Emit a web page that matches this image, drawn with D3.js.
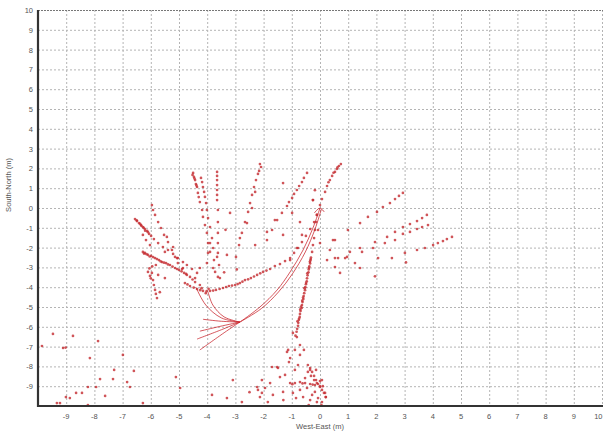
<!DOCTYPE html>
<html>
<head>
<meta charset="utf-8">
<script src="https://cdn.jsdelivr.net/npm/d3@7"></script>
<style>
  html, body { margin: 0; padding: 0; background: #fff; }
  svg { display: block; font-family: "Liberation Sans", Arial, sans-serif; }
</style>
</head>
<body>
<svg id="chart" width="603" height="434"></svg>
<script>
// Tick values for both axes (metres)
const xTicks = [-9,-8,-7,-6,-5,-4,-3,-2,-1,0,1,2,3,4,5,6,7,8,9,10];
const yTicks = [-9,-8,-7,-6,-5,-4,-3,-2,-1,0,1,2,3,4,5,6,7,8,9,10];

// Recorded positions [West-East, South-North] in metres, grouped by area
const westFan = [
  [-5.96,0.15],[-5.92,-0.10],[-5.85,-0.35],[-5.74,-0.71],[-5.64,-1.01],[-5.53,-1.36],[-5.39,-1.72],[-5.25,-2.12],[-5.14,-2.47],[-5.04,-2.78],[-4.89,-3.08],[-4.75,-3.33],
  [-6.56,-0.56],[-6.49,-0.66],[-6.42,-0.76],[-6.35,-0.86],[-6.28,-0.96],[-6.21,-1.06],[-6.13,-1.16],[-6.06,-1.31],[-5.99,-1.41],[-5.89,-1.57],[-5.74,-1.77],[-5.57,-1.97],[-5.39,-2.12],[-5.21,-2.32],[-5.04,-2.53],[-4.86,-2.73],[-4.72,-2.88],[-4.54,-3.08],[-4.36,-3.28],
  [-6.50,-0.62],[-6.38,-0.80],[-6.25,-1.00],[-6.10,-1.22],[-6.28,-1.36],[-6.17,-1.62],[-6.03,-1.87],[-6.20,-1.15],[-6.33,-0.90],
  [-6.28,-2.22],[-6.21,-2.27],[-6.10,-2.37],[-5.99,-2.42],[-5.85,-2.53],[-5.71,-2.63],[-5.60,-2.73],[-5.46,-2.78],[-5.32,-2.88],[-5.14,-3.03],[-5.00,-3.13],[-4.82,-3.28],[-4.61,-3.48],[-4.43,-3.74],[-4.26,-3.89],
  [-6.24,-2.30],[-6.15,-2.33],[-6.04,-2.45],[-5.92,-2.48],[-5.78,-2.58],[-5.65,-2.70],[-5.53,-2.76],[-5.39,-2.85],[-5.23,-2.96],[-5.07,-3.08],[-4.91,-3.20],[-4.72,-3.38],[-4.52,-3.61],
  [-6.10,-3.23],[-5.96,-3.28],[-5.74,-3.38],[-5.50,-3.54],[-6.03,-3.43],[-5.92,-3.64],[-5.89,-3.89],[-5.85,-4.14],[-5.82,-4.34],[-5.78,-4.55],
  [-6.05,-3.05],[-5.95,-2.95],[-5.82,-2.88],[-6.00,-3.55],[-5.68,-4.25]
];

const northRays = [
  [-4.50,1.77],[-4.47,1.57],[-4.43,1.41],[-4.40,1.21],[-4.36,1.06],[-4.33,0.76],[-4.26,0.30],[-4.18,-0.10],[-4.15,-0.45],[-4.08,-0.86],[-4.01,-1.26],[-3.97,-1.77],[-3.90,-2.22],
  [-4.52,1.67],[-4.45,1.49],[-4.38,1.14],[-4.30,0.55],
  [-4.22,1.52],[-4.18,1.31],[-4.15,1.06],[-4.11,0.81],[-4.08,0.56],[-4.04,0.25],[-4.01,-0.10],[-3.97,-0.51],[-3.90,-0.96],[-3.83,-1.52],[-3.79,-2.02],[-3.76,-2.63],[-3.72,-3.23],
  [-3.65,1.82],[-3.65,1.62],[-3.65,1.41],[-3.65,1.16],[-3.65,0.91],[-3.65,0.66],[-3.65,0.40],[-3.62,-0.10],[-3.62,-0.71],[-3.62,-1.26],[-3.62,-1.77],[-3.62,-2.27],[-3.58,-2.88],[-3.55,-3.54],
  [-2.13,2.22],[-2.09,2.07],[-2.16,1.87],[-2.20,1.72],[-2.27,1.41],[-2.34,1.06],[-2.41,0.66],[-2.48,0.25],[-2.55,-0.20],[-2.66,-0.71],[-2.77,-1.26],[-2.87,-1.87],[-2.98,-2.47],
  [-0.46,1.77],[-0.57,1.52],[-0.64,1.31],[-0.74,1.11],[-0.82,0.91],[-0.92,0.71],[-0.99,0.51],[-1.10,0.30],[-1.17,0.10],[-1.35,-0.25],[-1.52,-0.61],[-1.70,-1.11],[-1.88,-1.62],
  [0.74,2.22],[0.67,2.12],[0.60,1.97],[0.53,1.82],[0.43,1.62],[0.35,1.41],[0.25,1.11],[0.18,0.81],[0.07,0.45],[0.00,0.15],
  [0.62,2.05],[0.48,1.78],[0.30,1.30],[-0.18,0.90],[-0.25,0.40]
];

const eastRays = [
  [0.53,-1.62],[0.99,-1.11],[1.42,-0.76],[1.70,-0.45],[2.02,-0.20],[2.23,0.05],[2.48,0.25],[2.66,0.45],[2.80,0.61],[2.94,0.76],
  [0.53,-2.53],[1.06,-2.22],[1.42,-2.02],[1.95,-1.72],[2.38,-1.46],[2.66,-1.21],[2.94,-0.96],[3.19,-0.81],[3.44,-0.66],[3.62,-0.51],[3.79,-0.35],
  [1.49,-2.22],[1.88,-2.02],[2.30,-1.77],[2.66,-1.62],[2.94,-1.31],[3.19,-1.21],[3.44,-1.06],[3.62,-0.96],[3.83,-0.86],
  [3.01,-2.27],[3.44,-2.12],[3.72,-2.02],[4.01,-1.87],[4.18,-1.77],[4.36,-1.67],[4.50,-1.57],[4.68,-1.46],
  [2.06,-2.53],[2.55,-2.53],[1.42,-3.03],[0.71,-3.28],[0.89,-2.53],[0.53,-2.98],[0.35,-2.12],[1.24,-2.78],[1.95,-3.45],[3.05,-2.75]
];

const southColumn = [
  [-0.11,-0.35],[-0.14,-0.71],[-0.18,-1.11],[-0.21,-1.52],[-0.25,-1.87],[-0.28,-2.22],
  [-0.32,-2.50],[-0.34,-2.65],[-0.35,-2.80],[-0.38,-2.95],[-0.40,-3.10],[-0.41,-3.25],[-0.44,-3.40],[-0.46,-3.55],[-0.47,-3.70],[-0.50,-3.85],
  [-0.52,-4.00],[-0.53,-4.15],[-0.56,-4.30],[-0.58,-4.45],[-0.59,-4.60],[-0.62,-4.75],[-0.64,-4.90],[-0.65,-5.05],[-0.69,-5.20],[-0.71,-5.35],
  [-0.72,-5.50],[-0.75,-5.65],[-0.77,-5.80],[-0.78,-5.95],[-0.81,-6.10],[-0.83,-6.25],[-0.87,-6.45],
  [-0.36,-2.72],[-0.45,-3.30],[-0.55,-4.05],[-0.63,-4.68],[-0.70,-5.12],[-0.80,-5.72],
  [-0.33,-2.58],[-0.39,-3.02],[-0.49,-3.78],[-0.60,-4.52],[-0.67,-4.98],[-0.74,-5.58]
];

const southPlaza = [
  [-0.96,-6.31],[-0.82,-6.52],[-0.89,-7.17],[-0.71,-7.42],[-1.17,-7.27],[-1.06,-7.58],[-0.43,-7.93],[-0.35,-8.18],[-1.42,-8.54],[-1.77,-8.84],
  [-1.95,-9.09],[-2.23,-9.04],[-2.06,-9.34],[-1.67,-9.44],[-1.31,-9.29],[-0.96,-9.34],[-0.60,-9.55],[-0.35,-9.70],[-0.11,-9.80],[0.07,-9.80],[0.18,-9.34],[-1.52,-8.03],
  [-0.35,-8.08],[-0.28,-8.28],[-0.21,-8.48],[-0.14,-8.69],[-0.07,-8.89],[0.00,-9.04],[0.07,-9.19],[0.14,-9.34],
  [-0.43,-8.28],[-0.32,-8.48],[-0.21,-8.69],[-0.11,-8.84],[0.00,-8.74],[0.10,-9.00],[0.20,-9.55],
  [-1.06,-8.84],[-0.89,-8.84],[-0.71,-8.79],[-0.53,-8.84],[-0.35,-8.89],[-0.18,-8.94],[0.00,-8.99],[-0.98,-8.90],[-0.62,-8.86],[-0.26,-8.92],
  [-1.24,-8.43],[-0.89,-8.18],[-0.53,-8.59],[-0.71,-9.19],[-0.28,-9.44],[-0.07,-9.60],[0.21,-9.55],[-0.71,-6.92],[-0.57,-7.17],[-1.10,-7.78],
  [-0.78,-7.93],[-0.46,-9.09],[-0.18,-9.29],[0.07,-8.69],[-0.14,-8.18],
  [-3.09,-8.69],[-3.83,-9.44],[-3.30,-9.60],[-2.77,-9.80],[-2.06,-8.69],[-2.20,-9.19],[-2.13,-9.55],[-1.70,-8.03],[-1.49,-8.08],[-1.13,-7.17],
  [-1.30,-9.70],[-0.85,-9.60],[-2.50,-9.30],[-1.85,-9.80],[-0.40,-9.95],[0.05,-9.95]
];

const westScatter = [
  [-9.86,-6.97],[-9.47,-6.36],[-8.76,-6.46],[-9.11,-7.07],[-7.87,-6.72],[-8.16,-7.58],[-6.99,-7.42],[-7.30,-8.18],[-6.60,-8.23],[-5.11,-8.54],
  [-7.80,-8.64],[-7.34,-8.64],[-6.84,-8.79],[-6.74,-9.04],[-8.23,-9.04],[-7.94,-9.04],[-9.01,-9.55],[-8.87,-9.60],[-8.65,-9.34],[-8.44,-9.34],
  [-7.62,-9.49],[-4.96,-9.09],[-9.33,-9.85],[-9.22,-9.85],[-8.23,-9.95],[-6.28,-9.85],[-9.02,-7.05]
];

const middleScatter = [
  [-3.90,-1.77],[-3.97,-2.27],[-3.65,-2.47],[-3.30,-2.37],[-3.79,-3.03],[-4.01,-2.78],[-4.26,-3.03],[-4.43,-3.54],[-3.62,-3.48],[-2.84,-1.52],
  [-2.59,-0.76],[-2.41,0.00],[-2.30,0.81],[-1.60,-0.61],[-1.88,-1.21],[-1.31,-1.36],[-0.99,-0.25],[-0.71,-0.71],[-0.64,-1.36],[-0.82,-2.02],
  [-1.06,-2.63],[-0.25,0.40],[-0.07,-1.11],[0.00,-1.77],[0.25,-2.63],[0.46,-1.62],[0.64,-2.53],[0.96,-2.47],[-4.86,-3.03],[-5.07,-2.53],
  [-5.50,-2.22],[-5.43,-1.46],[-5.21,-1.97],[-3.19,-0.25],[-1.31,1.26],[-2.30,-1.87],[-3.35,-1.10],[-2.95,-3.10],[-3.40,-3.25]
];

// Dense walkway from the west fan back toward the origin
const arcTrail = [
  [-4.79,-3.79],[-4.61,-3.94],[-4.36,-4.09],[-4.15,-4.19],[-3.90,-4.19],[-3.69,-4.14],[-3.44,-4.04],[-3.23,-3.94],[-3.01,-3.89],[-2.84,-3.79],
  [-2.66,-3.64],[-2.45,-3.54],[-2.23,-3.38],[-2.02,-3.23],[-1.77,-3.08],[-1.60,-2.93],[-1.42,-2.83],[-1.24,-2.68],[-1.06,-2.53],[-0.92,-2.27],
  [-0.78,-2.02],[-0.64,-1.72],[-0.50,-1.41],[-0.35,-1.06],[-0.21,-0.71],[-0.11,-0.35],
  [-4.70,-3.86],[-4.48,-4.02],[-4.25,-4.15],[-4.02,-4.20],[-3.79,-4.17],[-3.56,-4.09],[-3.33,-3.99],[-3.12,-3.92],[-2.92,-3.84],[-2.75,-3.72],
  [-2.55,-3.60],[-2.34,-3.46],[-2.12,-3.30],[-1.90,-3.16],[-4.20,-4.05],[-4.05,-4.30],[-3.95,-4.08]
];

// Continuous tracks (control points), drawn as smooth curves
const tracks = [
  [[0.00,0.00],[-0.25,-1.01],[-0.60,-2.12],[-1.06,-3.23],[-1.52,-4.14],[-2.13,-5.00],[-2.84,-5.76]],
  [[0.05,-0.05],[-0.18,-1.08],[-0.52,-2.22],[-0.98,-3.33],[-1.47,-4.24],[-2.08,-5.08],[-2.84,-5.76]],
  [[-2.84,-5.76],[-3.40,-5.50],[-3.80,-4.90],[-3.97,-4.24]],
  [[-2.84,-5.76],[-3.50,-5.55],[-4.05,-4.90],[-4.40,-4.00]],
  [[-2.84,-5.76],[-3.50,-5.72],[-4.15,-5.62]],
  [[-2.84,-5.76],[-3.55,-5.98],[-4.26,-6.22]],
  [[-2.84,-5.76],[-3.50,-6.15],[-4.36,-6.62]],
  [[-2.84,-5.76],[-3.40,-6.30],[-4.26,-7.17]],
  [[-0.20,-0.25],[0.00,0.00],[0.15,-0.20]]
];

const W = 603, H = 434;
const svg = d3.select("#chart");
const x = d3.scaleLinear().domain([-10, 10]).range([38, 602]);
const y = d3.scaleLinear().domain([-10, 10]).range([406, 10]);

// Dotted grid
const grid = svg.append("g").attr("stroke", "#b4b4b4").attr("stroke-width", 1).attr("stroke-dasharray", "2,2");
grid.selectAll(".gx").data(xTicks).join("line")
  .attr("x1", d => x(d) + 0.5).attr("x2", d => x(d) + 0.5)
  .attr("y1", y(10)).attr("y2", y(-10));
grid.selectAll(".gy").data(yTicks.filter(d => d < 10)).join("line")
  .attr("x1", x(-10)).attr("x2", x(10))
  .attr("y1", d => y(d) + 0.5).attr("y2", d => y(d) + 0.5);

// Top frame
svg.append("line").attr("x1", x(-10)).attr("x2", W).attr("y1", y(10) + 0.5).attr("y2", y(10) + 0.5)
  .attr("stroke", "#777").attr("stroke-width", 1.2).attr("stroke-dasharray", "2,1");

// Tracks
const line = d3.line().x(d => x(d[0])).y(d => y(d[1])).curve(d3.curveCatmullRom.alpha(0.5));
svg.append("g").selectAll("path").data(tracks).join("path")
  .attr("d", line).attr("fill", "none").attr("stroke", "#c9242b").attr("stroke-width", 0.9).attr("opacity", 0.85);

// Point groups
const groups = [westFan, northRays, eastRays, southColumn, southPlaza, westScatter, middleScatter, arcTrail];
const dots = svg.append("g").attr("fill", "#c42a30");
groups.forEach(g => {
  dots.append("g").selectAll("circle").data(g).join("circle")
    .attr("cx", d => x(d[0])).attr("cy", d => y(d[1])).attr("r", 1.35).attr("opacity", 0.8);
});

// Axes
svg.append("line").attr("x1", x(-10)).attr("x2", x(-10)).attr("y1", y(10)).attr("y2", y(-10) + 1)
  .attr("stroke", "#333").attr("stroke-width", 2.2);
svg.append("line").attr("x1", x(-10) - 1).attr("x2", W).attr("y1", y(-10)).attr("y2", y(-10))
  .attr("stroke", "#333").attr("stroke-width", 2.2);

// Tick labels
svg.append("g").selectAll("text").data(yTicks).join("text")
  .attr("x", 33).attr("y", d => y(d) + 3)
  .attr("text-anchor", "end").attr("font-size", 7.5).attr("fill", "#555")
  .text(d => d);
svg.append("g").selectAll("text").data(xTicks).join("text")
  .attr("x", d => d === 10 ? W - 0.5 : x(d)).attr("y", 419)
  .attr("text-anchor", d => d === 10 ? "end" : "middle").attr("font-size", 7.5).attr("fill", "#555")
  .text(d => d);

// Axis titles
svg.append("text").attr("x", 320).attr("y", 429).attr("text-anchor", "middle")
  .attr("font-size", 7.5).attr("fill", "#555").text("West-East (m)");
svg.append("text").attr("transform", "translate(11,185) rotate(-90)").attr("text-anchor", "middle")
  .attr("font-size", 7.5).attr("fill", "#555").text("South-North (m)");
</script>
</body>
</html>
